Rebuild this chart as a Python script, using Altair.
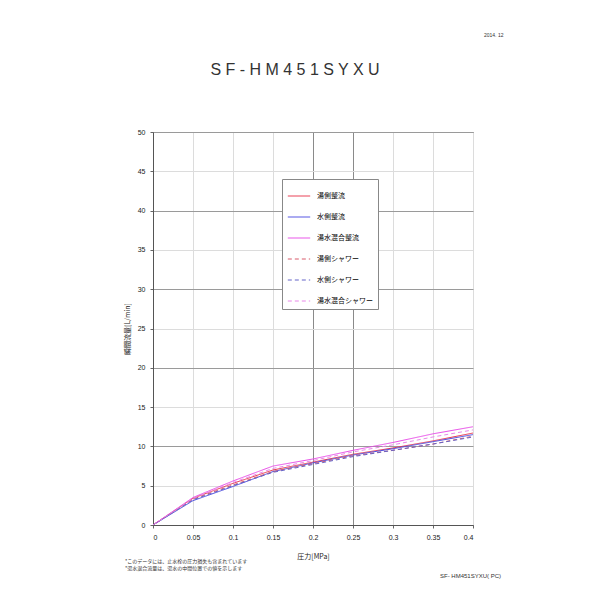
import altair as alt
import pandas as pd

pressure = [0, 0.05, 0.1, 0.15, 0.2, 0.25, 0.3, 0.35, 0.4]
series_names = ["湯側整流", "水側整流", "湯水混合整流", "湯側シャワー", "水側シャワー", "湯水混合シャワー"]
hot_straight = [0, 3.4, 5.3, 7.0, 8.0, 9.0, 9.8, 10.7, 11.7]
cold_straight = [0, 3.1, 4.9, 6.8, 7.9, 8.9, 9.7, 10.6, 11.5]
mix_straight = [0, 3.5, 5.6, 7.5, 8.4, 9.5, 10.5, 11.6, 12.5]
hot_shower = [0, 3.3, 5.1, 6.8, 7.8, 8.8, 9.5, 10.3, 11.3]
cold_shower = [0, 3.2, 5.0, 6.7, 7.7, 8.7, 9.5, 10.3, 11.2]
mix_shower = [0, 3.4, 5.4, 7.2, 8.2, 9.3, 10.2, 11.2, 12.1]
colors = ["#e8344a", "#4a4ae0", "#e84ae8", "#d85a6a", "#6464c8", "#e888e8"]
dashes = [[1, 0], [1, 0], [1, 0], [4, 3], [4, 3], [4, 3]]
x_ticks = [0, 0.05, 0.1, 0.15, 0.2, 0.25, 0.3, 0.35, 0.4]
y_ticks = [0, 5, 10, 15, 20, 25, 30, 35, 40, 45, 50]

all_series = [hot_straight, cold_straight, mix_straight, hot_shower, cold_shower, mix_shower]
rows = []
for name, vals in zip(series_names, all_series):
    for p, v in zip(pressure, vals):
        rows.append({"p": p, "q": v, "s": name})
df = pd.DataFrame(rows)

FONT = "Noto Sans CJK JP"

lines = alt.Chart(df).mark_line(strokeWidth=1, clip=True).encode(
    x=alt.X("p:Q", scale=alt.Scale(domain=[0, 0.4], nice=False),
            axis=alt.Axis(values=x_ticks, format=".2~f", title="圧力[MPa]",
                          titleFont=FONT, titleFontSize=7, titleFontWeight="normal",
                          titlePadding=12, labelFontSize=7, labelPadding=5,
                          gridColor={"condition": {"test": "abs(datum.value-0.2)<0.001 || abs(datum.value-0.25)<0.001", "value": "#8a8a8a"}, "value": "#dcdcdc"},
                          tickSize=3, tickColor="#666", domainColor="#555")),
    y=alt.Y("q:Q", scale=alt.Scale(domain=[0, 50], nice=False),
            axis=alt.Axis(values=y_ticks, title="瞬間流量[L/min]",
                          titleFont=FONT, titleFontSize=7, titleFontWeight="normal",
                          titlePadding=7, labelFontSize=7, labelPadding=5,
                          gridColor={"condition": {"test": "datum.value % 10 === 0", "value": "#9a9a9a"}, "value": "#dcdcdc"},
                          tickSize=3, tickColor="#666", domainColor="#555")),
    color=alt.Color("s:N", scale=alt.Scale(domain=series_names, range=colors), sort=series_names,
                    legend=alt.Legend(title=None, orient="none", legendX=129, legendY=47,
                                      fillColor="white", strokeColor="#888", padding=5,
                                      labelFont=FONT, labelFontSize=7, symbolType="stroke",
                                      symbolSize=500, symbolStrokeWidth=1, rowPadding=6,
                                      labelOffset=6)),
    strokeDash=alt.StrokeDash("s:N", scale=alt.Scale(domain=series_names, range=dashes), sort=series_names,
                              legend=alt.Legend(title=None, orient="none", legendX=129, legendY=47)),
    order=alt.Order("p:Q"),
)

def note(txt, x, y, size=6, align="left", font=FONT):
    return alt.Chart(pd.DataFrame({"t": [txt]})).mark_text(
        align=align, baseline="middle", fontSize=size, font=font,
        color="#333"
    ).encode(x=alt.value(x), y=alt.value(y), text="t:N")

title = note("S F -   H M 4 5 1 S Y X U", 142, -62, size=16, align="center", font="Liberation Sans")
date = note("2014. 12", 331, -97, size=5, font="Liberation Sans")
n1 = note("*このデータには、止水栓の圧力損失も含まれています", -28, 36 + 393, size=5)
n2 = note("*湯水混合流量は、湯水の中間位置での値を示します", -28, 43 + 393, size=5)
code = note("SF- HM451SYXU( PC)", 348, 51 + 393, size=6, align="right", font="Liberation Sans")

chart = alt.layer(lines, title, date, n1, n2, code).properties(
    width=320, height=393,
    autosize=alt.AutoSizeParams(type="none"),
    padding={"left": 145, "top": 124, "right": 110, "bottom": 58},
).configure_view(stroke="#555").configure_axis(labelFont="Liberation Sans", labelColor="#222", titleColor="#222")

chart.save("out.html", embed_options={"renderer": "svg", "actions": False})
